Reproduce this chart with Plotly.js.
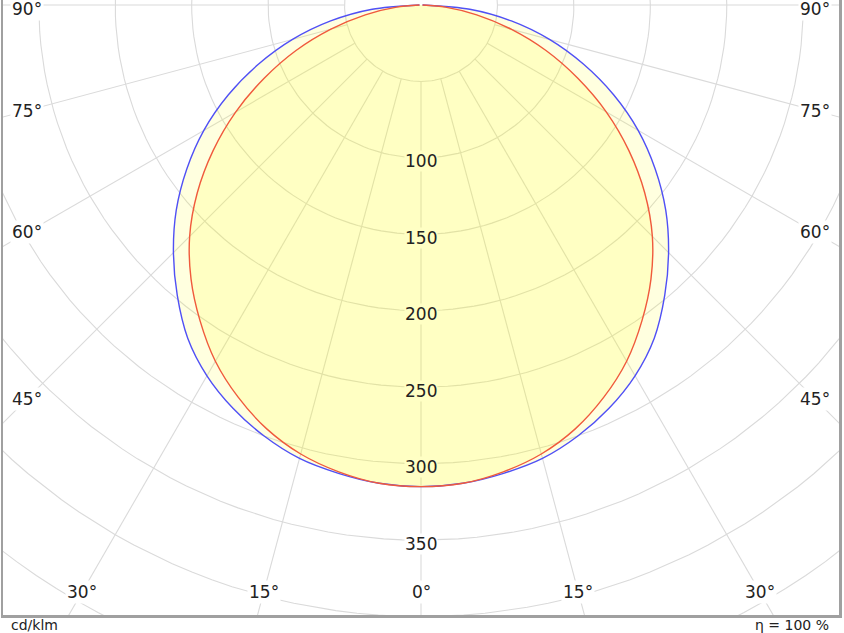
<!DOCTYPE html>
<html>
<head>
<meta charset="utf-8">
<script src="https://cdn.plot.ly/plotly-3.0.1.min.js"></script>
<style>
  html, body { margin: 0; padding: 0; background: #ffffff; }
  #chart { width: 844px; height: 633px; }
</style>
</head>
<body>
<div id="chart"></div>
<script>
// ---- data (gamma angle in degrees, intensity in cd/klm) ----
const gammaAngles   = [0, 5, 10, 15, 20, 25, 30, 35, 40, 45, 50, 55, 60, 65, 70, 75, 80, 85, 90];
const planeBlue     = [315, 314, 311, 307, 300, 291, 280, 266, 248, 229, 209, 187, 164, 139, 113, 87, 60, 32, 1];
const planeRed      = [315, 314, 310, 304, 295, 283, 269, 252, 234, 214, 191, 166, 140, 113, 87, 61, 37, 16, 1];

// ---- grid and labels ----
const gridRadii     = [50, 100, 150, 200, 250, 300, 350, 400, 450, 500];
const spokeAngles   = [-90, -75, -60, -45, -30, -15, 0, 15, 30, 45, 60, 75, 90];
const radialLabels  = [100, 150, 200, 250, 300, 350];
const angleLabels   = [0, 15, 30, 45, 60, 75, 90];
const unitText      = 'cd/klm';
const effText       = 'η = 100 %';

const rad = d => d * Math.PI / 180;
const px = (r, a) => r * Math.sin(rad(a));
const py = (r, a) => -r * Math.cos(rad(a));

// circles
const cx = [], cy = [];
gridRadii.forEach(r => {
  for (let a = 0; a <= 360; a += 2) { cx.push(px(r, a)); cy.push(py(r, a)); }
  cx.push(null); cy.push(null);
});
// spokes (start at the first circle)
const sx = [], sy = [];
spokeAngles.forEach(a => {
  sx.push(px(gridRadii[0], a), px(900, a), null);
  sy.push(py(gridRadii[0], a), py(900, a), null);
});

function curve(vals) {
  const x = [], y = [];
  for (let i = gammaAngles.length - 1; i >= 0; i--) { x.push(px(vals[i], -gammaAngles[i])); y.push(py(vals[i], -gammaAngles[i])); }
  for (let i = 1; i < gammaAngles.length; i++) { x.push(px(vals[i], gammaAngles[i])); y.push(py(vals[i], gammaAngles[i])); }
  return {x, y};
}
const cb = curve(planeBlue), cr = curve(planeRed);

const gridColor = '#dadada';
const fillCol = 'rgba(255,255,0,0.125)';
const sp = {shape: 'spline', smoothing: 0.8};

const traces = [
  {x: cx, y: cy, mode: 'lines', line: {color: gridColor, width: 1.1}, hoverinfo: 'skip'},
  {x: sx, y: sy, mode: 'lines', line: {color: gridColor, width: 1.1}, hoverinfo: 'skip'},
  {x: cb.x, y: cb.y, mode: 'lines', fill: 'toself', fillcolor: fillCol, line: Object.assign({width: 0}, sp), hoverinfo: 'skip'},
  {x: cr.x, y: cr.y, mode: 'lines', fill: 'toself', fillcolor: fillCol, line: Object.assign({width: 0}, sp), hoverinfo: 'skip'},
  {x: cb.x, y: cb.y, mode: 'lines', line: Object.assign({color: '#5050f5', width: 1.4}, sp), hoverinfo: 'skip'},
  {x: cr.x, y: cr.y, mode: 'lines', line: Object.assign({color: '#f05a3c', width: 1.4}, sp), hoverinfo: 'skip'}
];

const font = {family: 'DejaVu Sans, Verdana, sans-serif', size: 17, color: '#222222'};
const annotations = [];
// radial value labels along 0 deg
radialLabels.forEach(r => {
  annotations.push({x: 0, y: -r, xref: 'x', yref: 'y', text: String(r), showarrow: false,
    yshift: -3.5, font: font, borderpad: 0,
    bgcolor: r <= 300 ? 'rgb(255,255,196)' : '#ffffff'});
});
// angle labels where spokes meet an inset box
const boxX = 257.5, boxY = -383.6;
angleLabels.forEach(a => {
  const sides = a === 0 ? [1] : [-1, 1];
  sides.forEach(s => {
    const ang = s * a;
    const sn = Math.sin(rad(ang)), cs = Math.cos(rad(ang));
    let t = Infinity;
    if (Math.abs(sn) > 1e-9) t = Math.min(t, boxX / Math.abs(sn));
    if (cs > 1e-9) t = Math.min(t, -boxY / cs);
    let x = t * sn, y = -t * cs;
    y = Math.min(y, -2.6);
    annotations.push({x: x, y: y, xref: 'x', yref: 'y', text: a + '°', showarrow: false,
      font: font, bgcolor: '#ffffff', borderpad: 1});
  });
});
const footFont = {family: 'DejaVu Sans, Verdana, sans-serif', size: 14, color: '#222222'};
annotations.push({x: 0.008, y: 0, xref: 'paper', yref: 'paper', xanchor: 'left', yanchor: 'top',
  yshift: -1, text: unitText, showarrow: false, font: footFont, borderpad: 0});
annotations.push({x: 0.989, y: 0, xref: 'paper', yref: 'paper', xanchor: 'right', yanchor: 'top',
  yshift: -1, text: effText, showarrow: false, font: footFont, borderpad: 0});

const layout = {
  width: 844, height: 633,
  margin: {l: 3, r: 5, t: 0, b: 18, pad: 0},
  paper_bgcolor: '#ffffff', plot_bgcolor: '#ffffff',
  showlegend: false,
  xaxis: {range: [-273.4, 273.4], showgrid: false, zeroline: false, showticklabels: false, ticks: '',
          showline: true, linecolor: '#a0a0a0', linewidth: 2.5, fixedrange: true},
  yaxis: {range: [-398.95, 3.27], showgrid: false, zeroline: false, showticklabels: false, ticks: '',
          showline: true, mirror: true, linecolor: '#a0a0a0', linewidth: 2.5, fixedrange: true},
  annotations: annotations
};

Plotly.newPlot('chart', traces, layout, {staticPlot: true, displayModeBar: false});
</script>
</body>
</html>
